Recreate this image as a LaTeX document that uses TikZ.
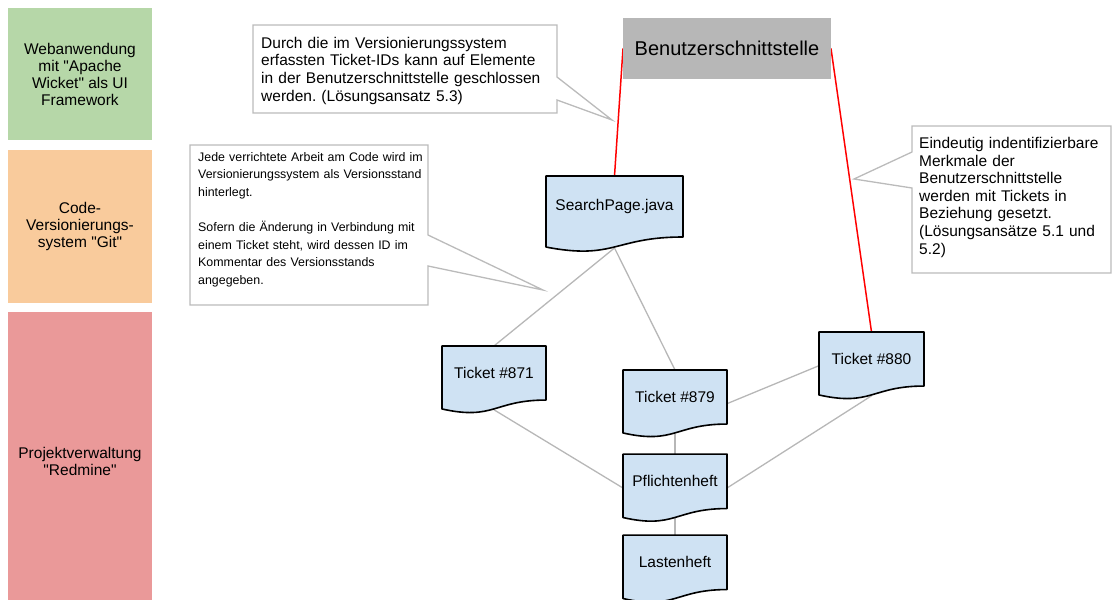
\documentclass[tikz,border=0pt]{standalone}
\usepackage{fontspec}
\setmainfont{Liberation Sans}
% plain family without TeX ligatures, so that " stays a straight quote
\newfontfamily\basefont{Liberation Sans}
\usetikzlibrary{calc,backgrounds}
\definecolor{lanegreen}{HTML}{B6D7A8}
\definecolor{laneorange}{HTML}{F9CB9C}
\definecolor{lanered}{HTML}{EA9999}
\definecolor{docblue}{HTML}{CFE2F3}
\definecolor{uigray}{HTML}{B7B7B7}
\definecolor{linkgray}{HTML}{B7B7B7}
\definecolor{notegray}{HTML}{BBBBBB}
\frenchspacing
\begin{document}
\begin{tikzpicture}[x=1pt,y=-1pt,
  bodytext/.style={font=\basefont\fontsize{15.5pt}{17.6pt}\selectfont},
  smalltext/.style={font=\basefont\fontsize{12.4pt}{17.6pt}\selectfont},
  lane/.style={font=\basefont\fontsize{15.5pt}{17pt}\selectfont, align=center,
    minimum width=144pt, inner sep=0pt, outer sep=0pt, draw=none},
  uibox/.style={fill=uigray, draw=none, minimum width=208pt, minimum height=61pt,
    inner sep=0pt, outer sep=0pt, font=\basefont\fontsize{20pt}{24pt}\selectfont},
  docnode/.style={bodytext, draw=none, minimum width=104pt, minimum height=54.1pt,
    inner sep=0pt, outer sep=0pt},
  docedge/.style={draw=black, fill=docblue, line width=1.6pt, line join=round},
  notetext/.style={bodytext, anchor=north west, inner sep=0pt, text width=320pt, align=left},
  noteedge/.style={draw=notegray, fill=white, line width=1.3pt, line join=miter},
  link/.style={draw=linkgray, line width=1.3pt},
  uilink/.style={draw=red, line width=1.5pt}]

\useasboundingbox (0,0) rectangle (1112,600);
\clip (0,0) rectangle (1112,600);

% system layers
\node[lane, fill=lanegreen, minimum height=132pt] (web) at (80,74)
  {Webanwendung\\mit "Apache\\Wicket" als UI\\Framework};
\node[lane, fill=laneorange, minimum height=153pt] (git) at (80,226.5)
  {Code-\\Versionierungs-\\system "Git"};
\node[lane, fill=lanered, minimum height=298pt] (redmine) at (80,461)
  {Projektverwaltung\\"Redmine"};

% user interface
\node[uibox] (ui) at (727,48.5) {Benutzerschnittstelle};

% documents (node box = text area, wavy bottom drawn below)
\node[docnode, minimum width=137pt, minimum height=61pt] (sp) at (614.5,206.5) {SearchPage.java};
\node[docnode] (t871) at (494,373) {Ticket \#871};
\node[docnode] (t879) at (675,397) {Ticket \#879};
\node[docnode, minimum height=54.5pt] (pf) at (675,481.3) {Pflichtenheft};
\node[docnode, minimum height=54.5pt] (lh) at (675,562.3) {Lastenheft};
\node[docnode, minimum width=105pt] (t880) at (871.5,359) {Ticket \#880};

% connection sites of the document shapes
\foreach \n in {sp,t871,t879,pf,lh,t880} {
  \coordinate (\n-b) at ($(\n.south)!-0.18!(\n.north)$);
  \coordinate (\n-l) at ($(\n.north west)!0.6234!(\n.south west)$);
  \coordinate (\n-r) at ($(\n.north east)!0.6234!(\n.south east)$);
}

% notes
\node[notetext] (n1) at (261,35.7) {\strut Durch die im Versionierungssystem\\
  erfassten Ticket-IDs kann auf Elemente\\
  in der Benutzerschnittstelle geschlossen\\
  werden. (Lösungsansatz 5.3)};
\node[notetext, smalltext] (n2) at (198,148.7) {\strut Jede verrichtete Arbeit am Code wird im\\
  Versionierungssystem als Versionsstand\\
  hinterlegt.\\[17.6pt]
  Sofern die Änderung in Verbindung mit\\
  einem Ticket steht, wird dessen ID im\\
  Kommentar des Versionsstands\\
  angegeben.};
\node[notetext] (n3) at (919,136) {\strut Eindeutig indentifizierbare\\
  Merkmale der\\
  Benutzerschnittstelle\\
  werden mit Tickets in\\
  Beziehung gesetzt.\\
  (Lösungsansätze 5.1 und\\
  5.2)};

\begin{scope}[on background layer]
  % note outlines with pointers
  \path[noteedge] (253,25) -- (557,25) -- (557,77) -- (612,120) -- (557,100)
    -- (557,113) -- (253,113) -- cycle;
  \path[noteedge] (190,145) -- (428,145) -- (428,235) -- (543,290) -- (428,266)
    -- (428,305) -- (190,305) -- cycle;
  \path[noteedge] (912,126) -- (1111,126) -- (1111,273) -- (912,273) -- (912,188)
    -- (854,179) -- (912,152) -- cycle;

  % links
  \draw[uilink] (ui.west) -- (sp.north);
  \draw[uilink] (ui.east) -- (t880.north);
  \draw[link] (sp-b) -- (t871.north);
  \draw[link] (sp-b) -- (t879.north);
  \draw[link] (t871-b) -- (pf-l);
  \draw[link] (t879-b) -- (pf.north);
  \draw[link] (t879-r) -- (t880-l);
  \draw[link] (t880-b) -- (pf-r);
  \draw[link] (pf-b) -- (lh.north);

  % document outlines
  \foreach \n in {sp,t871,t879,pf,lh,t880}
    \path[docedge] (\n.north west) -- (\n.north east) -- (\n.south east)
      .. controls (\n.south) and ($(\n.south)!-0.381!(\n.north)$)
      .. ($(\n.south west)!-0.1646!(\n.north west)$) -- cycle;
\end{scope}
\end{tikzpicture}
\end{document}
